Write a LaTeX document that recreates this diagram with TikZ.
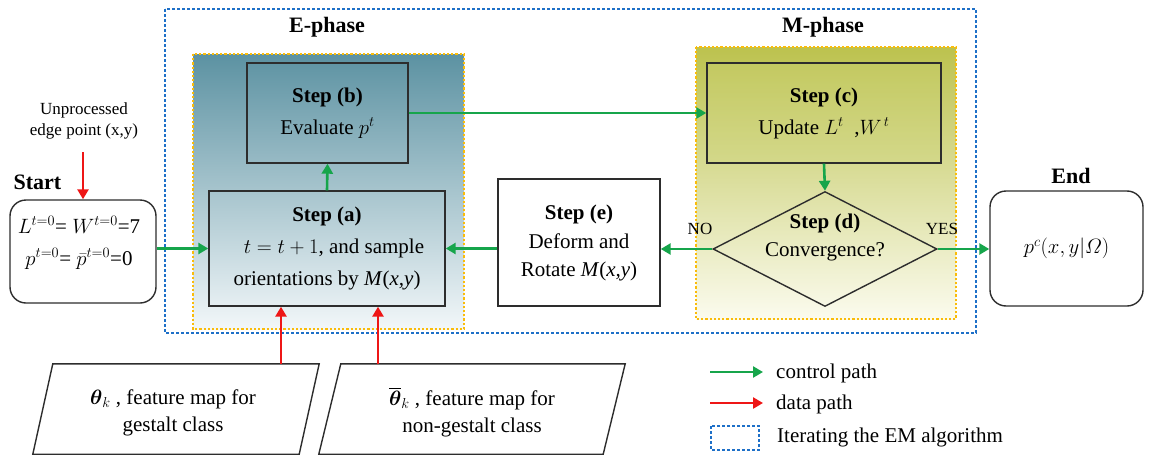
\documentclass[tikz,border=0pt]{standalone}
\usepackage{amsmath}
\usepackage{fontspec}
\setmainfont{Liberation Serif}
\usetikzlibrary{arrows.meta,shapes.geometric,calc}
\definecolor{boxc}{RGB}{45,45,45}
\definecolor{ctrlgreen}{RGB}{22,165,75}
\definecolor{datred}{RGB}{238,22,22}
\definecolor{dotblue}{RGB}{30,112,200}
\definecolor{dotyellow}{RGB}{250,188,10}
\definecolor{etop}{RGB}{92,146,162}
\definecolor{emid}{RGB}{200,221,229}
\definecolor{ebot}{RGB}{242,247,249}
\definecolor{mtop}{RGB}{188,194,78}
\definecolor{mmid}{RGB}{234,237,192}
\definecolor{mbot}{RGB}{251,251,238}
\definecolor{cfill}{RGB}{205,212,120}
\tikzset{
  box/.style={draw=boxc, line width=1.4pt, inner sep=0pt, align=center},
  rbox/.style={box, rounded corners=16pt},
  ctrl/.style={draw=ctrlgreen, line width=2.6pt, -{Triangle[length=10pt,width=11pt]}},
  dat/.style={draw=datred, line width=2.6pt, -{Triangle[length=10pt,width=11pt]}},
  bluedot/.style={draw=dotblue, line width=2.6pt, dash pattern=on 2.6pt off 2.4pt},
  ydot/.style={draw=dotyellow, line width=2.2pt, dash pattern=on 2.2pt off 2pt},
  lbl/.style={font=\fontsize{22}{26}\selectfont\bfseries, inner sep=0pt},
  small/.style={font=\fontsize{17}{21}\selectfont, inner sep=0pt, align=center},
  txt/.style={inner sep=0pt, align=center},
  legtxt/.style={inner sep=0pt, anchor=west}
}
\begin{document}
\begin{tikzpicture}[x=1pt,y=-1pt,font=\fontsize{21}{32}\selectfont]
\useasboundingbox (0,0) rectangle (1149,458);
% phase backgrounds
\shade[top color=etop, middle color=emid, bottom color=ebot] (193,54) rectangle (464,329);
\shade[top color=mtop, middle color=mmid, bottom color=mbot] (696,47) rectangle (956,319);
\draw[ydot] (193,54) rectangle (464,329);
\draw[ydot] (696,47) rectangle (956,319);
\draw[bluedot] (165,9) rectangle (976,333);
\node[lbl] (elbl) at (327,27) {E-phase};
\node[lbl] (mlbl) at (823,27) {M-phase};

% step boxes
\node[box, minimum width=161, minimum height=100] (b) at (327.5,113)
  {\textbf{Step (b)}\\ Evaluate $p^t$};
\node[box, minimum width=236, minimum height=115] (a) at (327,248.5)
  {\textbf{Step (a)}\\ \hspace*{14pt}$t=t+1$, and sample\\ orientations by \textit{M}(\textit{x,y})};
\node[box, minimum width=162, minimum height=127] (e) at (579,242.5)
  {\textbf{Step (e)}\\[-3pt] Deform and\\[-4pt] Rotate \textit{M}(\textit{x,y})};
\node[box, fill=cfill, fill opacity=0.3, text opacity=1, minimum width=234, minimum height=100] (c) at (824,113)
  {\textbf{Step (c)}\\ Update $L^t$\ \ ,$W^{\,t}$};
\node[draw=boxc, line width=1.4pt, diamond, inner sep=0pt, minimum width=224, minimum height=115] (d) at (825,249) {};
\node[txt, font=\fontsize{21}{28}\selectfont] (dtext) at (825,237) {\textbf{Step (d)}\\ Convergence?};
\node[small] (no) at (700,229) {NO};
\node[small] (yes) at (942,229) {YES};

% start and end
\node[rbox, minimum width=146, minimum height=103] (start) at (83,251.5) {};
\node[txt, font=\fontsize{21}{32}\selectfont] (sttext) at (79,243)
  {$L^{t=0}$= $W^{t=0}$=7\\ $p^{t=0}$= $\bar{p}^{t=0}$=0};
\node[lbl] (stlbl) at (37.5,182) {Start};
\node[rbox, minimum width=153, minimum height=115] (end) at (1066.5,248.5) {$p^c(x,y|\varOmega)$};
\node[lbl] (endlbl) at (1071,176) {End};
\node[small] (u) at (84,121) {Unprocessed\\ edge point (x,y)};

% parallelograms
\node[minimum width=266, minimum height=90, inner sep=0pt] (pl) at (176,409) {};
\draw[boxc, line width=1.4pt] ([xshift=10pt]pl.north west) -- ([xshift=10pt]pl.north east)
  -- ([xshift=-10pt]pl.south east) -- ([xshift=-10pt]pl.south west) -- cycle;
\node[txt, font=\fontsize{21}{27}\selectfont] (pltext) at (173,413)
  {$\boldsymbol{\theta}_k$ , feature map for\\ gestalt class};
\node[minimum width=284, minimum height=90, inner sep=0pt] (pr) at (472,409) {};
\draw[boxc, line width=1.4pt] ([xshift=11pt]pr.north west) -- ([xshift=11pt]pr.north east)
  -- ([xshift=-11pt]pr.south east) -- ([xshift=-11pt]pr.south west) -- cycle;
\node[txt, font=\fontsize{21}{27}\selectfont] (prtext) at (472,412)
  {$\overline{\boldsymbol{\theta}}_k$ , feature map for\\ non-gestalt class};

% connectors
\coordinate (ra) at (281,0);
\coordinate (rb) at (378,0);
\draw[ctrl] (start.east |- a.west) -- (a.west);
\draw[ctrl] (a.north) -- (b.south);
\draw[ctrl] (b.east) -- (c.west);
\draw[ctrl] (c.south) -- (d.north);
\draw[ctrl] (d.west) -- (e.east |- d.west);
\draw[ctrl] (e.west |- a.west) -- (a.east);
\draw[ctrl] (d.east) -- (end.west |- d.east);
\path (u.south -| start.north) ++(0,13) coordinate (ustart);
\draw[dat] (ustart) -- (start.north);
\draw[dat] (pl.north -| ra) -- (a.south -| ra);
\draw[dat] (pr.north -| rb) -- (a.south -| rb);

% legend
\coordinate (g1) at (710,372); \coordinate (g2) at (763,372);
\coordinate (r1) at (710,403); \coordinate (r2) at (763,403);
\draw[ctrl] (g1) -- (g2);
\draw[dat] (r1) -- (r2);
\draw[bluedot] (711,426) rectangle (759,450);
\node[legtxt] (l1) at (776,373) {control path};
\node[legtxt] (l2) at (776,404) {data path};
\node[legtxt] (l3) at (777,437) {Iterating the EM algorithm};
\end{tikzpicture}
\end{document}
